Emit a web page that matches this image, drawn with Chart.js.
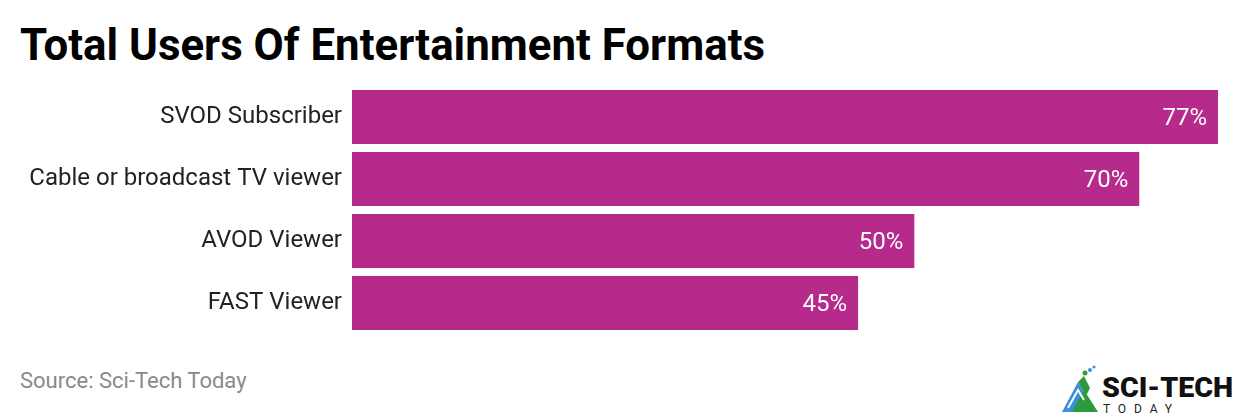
<!DOCTYPE html>
<html>
<head>
<meta charset="utf-8">
<script src="https://cdn.jsdelivr.net/npm/chart.js@4"></script>
<style>
  html, body { margin:0; padding:0; background:#fff; width:1240px; height:416px; overflow:hidden; font-family: Roboto, "Noto Sans", sans-serif; }
  #title { position:absolute; left:20px; top:19px; font-family:Roboto; font-weight:700; font-size:44px; line-height:1.2; color:#000; white-space:nowrap; transform-origin:left top; }
  #source { position:absolute; left:20px; top:370px; font-family:Roboto; font-size:22px; line-height:1; color:#8a8a8a; white-space:nowrap; }
  #wrap { position:absolute; left:0; top:86px; width:1240px; height:248px; }
  #logo { position:absolute; left:1040px; top:350px; width:200px; height:66px; }
</style>
</head>
<body>
<div id="title">Total Users Of Entertainment Formats</div>
<div id="wrap"><canvas id="c" width="1240" height="248"></canvas></div>
<div id="source">Source: Sci-Tech Today</div>
<svg id="logo" viewBox="0 0 200 66" xmlns="http://www.w3.org/2000/svg">
  <polygon points="22,62 38,32 46,46 36,62" fill="#3a8fd8"/>
  <polygon points="32,62 44,40 58,62" fill="#2e9a3e"/>
  <path d="M28,58 L38,40 L44,50" stroke="#fff" stroke-width="2" fill="none"/>
  <polygon points="38,32 44,26 50,38 46,46" fill="#2e9a3e"/>
  <circle cx="45" cy="23" r="2.5" fill="#2e9a3e"/>
  <circle cx="50" cy="20" r="2" fill="#3a8fd8"/>
  <circle cx="54" cy="17" r="1.5" fill="#3a8fd8"/>
  <text x="62" y="47" font-family="Roboto" font-weight="900" font-size="27" fill="#111" textLength="131" lengthAdjust="spacingAndGlyphs">SCI-TECH</text>
  <text x="63" y="63" font-family="Roboto" font-size="12" fill="#222" textLength="69">TODAY</text>
</svg>
<script>
const categories = ["SVOD Subscriber", "Cable or broadcast TV viewer", "AVOD Viewer", "FAST Viewer"];
const values = [77, 70, 50, 45];
const valueLabels = ["77%", "70%", "50%", "45%"];

// fit title to reference width
(function(){
  const t = document.getElementById('title');
  const w = t.getBoundingClientRect().width;
  t.style.transform = 'scaleX(' + (745 / w) + ')';
})();

const labelPlugin = {
  id: 'valueLabels',
  afterDatasetsDraw(chart) {
    const ctx = chart.ctx;
    const meta = chart.getDatasetMeta(0);
    ctx.save();
    ctx.font = '400 24px Roboto';
    ctx.fillStyle = '#ffffff';
    ctx.textAlign = 'right';
    ctx.textBaseline = 'alphabetic';
    meta.data.forEach((bar, i) => {
      ctx.fillText(valueLabels[i], bar.x - 11, bar.y + 8);
    });
    ctx.restore();
  }
};

new Chart(document.getElementById('c'), {
  type: 'bar',
  data: {
    labels: categories,
    datasets: [{ data: values, backgroundColor: '#b52a8a', borderWidth: 0, barPercentage: 0.87, categoryPercentage: 1.0 }]
  },
  options: {
    indexAxis: 'y',
    responsive: false,
    animation: false,
    devicePixelRatio: 1,
    layout: { padding: { left: 0, right: 22, top: 0, bottom: 0 } },
    plugins: { legend: { display: false }, tooltip: { enabled: false } },
    scales: {
      x: { display: false, min: 0, max: 77, grid: { display: false } },
      y: {
        grid: { display: false, drawTicks: false },
        border: { display: false },
        ticks: { color: '#222', font: { family: 'Roboto', size: 24 }, padding: 10 },
        afterFit(scale) { scale.width = 352; scale.paddingTop = 0; scale.paddingBottom = 0; }
      }
    }
  },
  plugins: [labelPlugin]
});
</script>
</body>
</html>
